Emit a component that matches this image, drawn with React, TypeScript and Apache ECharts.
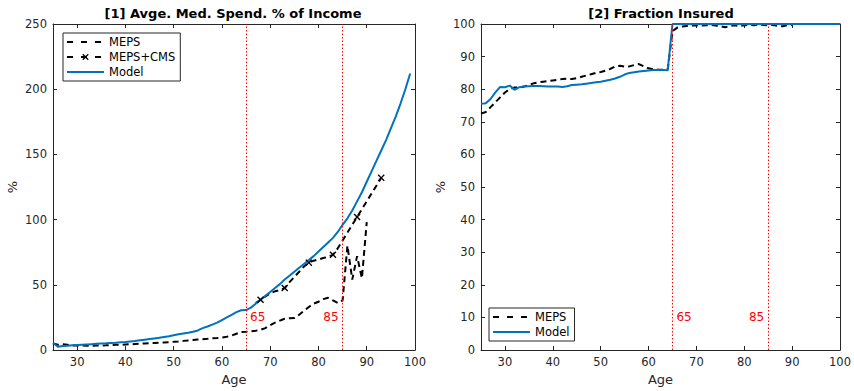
import React, { useEffect, useRef } from "react";
import * as echarts from "echarts";

const FONT = "DejaVu Sans";
const AXIS_COLOR = "#262626";
const BLUE = "#0072BD";

// [1] Average medical spending as % of income, by age
const spendModelStart = 25;
const spendModel = [
  5.5, 2.5, 3.0, 3.3, 3.6, 3.9, 4.1, 4.3, 4.5, 4.7, 4.9, 5.1, 5.4, 5.6, 5.9,
  6.1, 6.5, 6.9, 7.4, 7.9, 8.4, 8.9, 9.4, 10.0, 10.6, 11.3, 12.0, 12.7, 13.3,
  14.0, 15.0, 16.8, 18.0, 19.5, 21.0, 23.0, 25.0, 27.0, 29.0, 30.5, 30.6, 32.5,
  35.5, 38.5, 41.5, 44.5, 47.5, 50.5, 54.0, 57.0, 60.0, 63.0, 66.0, 69.0, 72.0,
  75.5, 79.0, 82.5, 86.0, 90.5, 96.0, 101, 107, 114, 121, 129, 137, 145, 153,
  161, 170, 179, 189, 200, 212,
];
const spendMepsStart = 25;
const spendMeps = [
  5, 4, 4.5, 4, 3.5, 3.5, 3.5, 3.3, 3.2, 3.4, 3.5, 3.6, 3.8, 4, 4, 4.2, 4.4,
  4.6, 4.8, 5, 5.2, 5.4, 5.6, 5.8, 6, 6.3, 6.6, 7, 7.3, 7.6, 8, 8.3, 8.6, 9,
  9.2, 9.5, 10.2, 11, 12.5, 13.8, 14, 14.3, 14.8, 15.5, 16.8, 19, 21, 22.5, 24,
  24.3, 24.5, 27, 30, 33, 35.5, 37, 39, 40, 38, 36, 38, 80, 54, 72, 55, 98,
];
const spendCmsStart = 67;
const spendCms = [
  36, 38.5, 41, 43.5, 45, 46, 47.5, 52, 56, 60, 64, 67, 68.5, 69.5, 70.5, 71.5,
  73, 78, 84, 90, 96, 102, 108, 114, 120, 126, 132,
];
const cmsMarkerAges = [68, 73, 78, 83, 88, 93];

// [2] Fraction insured, by age
const insuredModelStart = 25;
const insuredModel = [
  75.5, 75.7, 77, 79, 80.7, 80.6, 81.1, 79.8, 80.6, 80.8, 80.9, 81, 81, 80.9,
  80.8, 80.8, 80.8, 80.7, 80.9, 81.3, 81.4, 81.5, 81.7, 81.9, 82.1, 82.3, 82.6,
  82.9, 83.3, 83.8, 84.5, 85, 85.2, 85.4, 85.6, 85.7, 85.9, 85.9, 85.9, 85.8,
  100, 100, 100, 100, 100, 100, 100, 100, 100, 100, 100, 100, 100, 100, 100,
  100, 100, 100, 100, 100, 100, 100, 100, 100, 100, 100, 100, 100, 100, 100,
  100, 100, 100, 100, 100, 100,
];
const insuredMepsStart = 25;
const insuredMeps = [
  72.5, 73, 74.5, 76, 77.5, 79, 80, 80.5, 80.5, 80.8, 81.3, 81.8, 82.1, 82.3,
  82.5, 82.7, 82.9, 83.1, 83.2, 83.1, 83.4, 83.8, 84.2, 84.6, 85, 85.3, 85.7,
  86.2, 87, 87.2, 86.9, 87, 87.4, 87.7, 87, 86.4, 86.1, 86, 86, 86.1, 97.8,
  98.9, 99.2, 99.4, 99.5, 99.6, 99.5, 99.6, 99.7, 99.5, 99.3, 99.0, 99.4, 99.6,
  99.4, 99.6, 99.7, 99.6, 99.8, 99.7, 99.6, 99.7, 99.4, 99.3, 99.6, 99.7,
];

const ageTicks = [30, 40, 50, 60, 70, 80, 90, 100];
const refAges = [65, 85];

const pairs = (start: number, vals: number[]) =>
  vals.map((v, i) => [start + i, v]);

const X_MARK =
  "path://M0,1.4L1.4,0L5,3.6L8.6,0L10,1.4L6.4,5L10,8.6L8.6,10L5,6.4L1.4,10L0,8.6L3.6,5Z";

const xAxisFor = (gridIndex: number, position: "bottom" | "top") => ({
  type: "value",
  gridIndex,
  position,
  min: 25,
  max: 100,
  axisLine: { show: true, onZero: false, lineStyle: { color: AXIS_COLOR, width: 1 } },
  axisTick: {
    show: true,
    inside: true,
    length: 4,
    customValues: ageTicks,
    lineStyle: { color: AXIS_COLOR, width: 1 },
  },
  axisLabel: {
    show: position === "bottom",
    customValues: ageTicks,
    color: AXIS_COLOR,
    fontFamily: FONT,
    fontSize: 11.5,
    margin: 6,
  },
  splitLine: { show: false },
  name: position === "bottom" ? "Age" : "",
  nameLocation: "middle",
  nameGap: 23,
  nameTextStyle: { color: AXIS_COLOR, fontFamily: FONT, fontSize: 13 },
});

const yAxisFor = (
  gridIndex: number,
  position: "left" | "right",
  max: number,
  interval: number
) => ({
  type: "value",
  gridIndex,
  position,
  min: 0,
  max,
  interval,
  axisLine: { show: true, onZero: false, lineStyle: { color: AXIS_COLOR, width: 1 } },
  axisTick: { show: true, inside: true, length: 4, lineStyle: { color: AXIS_COLOR, width: 1 } },
  axisLabel: {
    show: position === "left",
    color: AXIS_COLOR,
    fontFamily: FONT,
    fontSize: 11.5,
    margin: 6,
  },
  splitLine: { show: false },
  name: position === "left" ? "%" : "",
  nameLocation: "middle",
  nameGap: 34,
  nameTextStyle: { color: AXIS_COLOR, fontFamily: FONT, fontSize: 13 },
});

const dashed = { color: "#000", width: 2, type: [6, 4] as number[] };
const solidBlue = { color: BLUE, width: 2 };

const refLines = {
  silent: true,
  symbol: ["none", "none"],
  label: { show: false },
  lineStyle: { color: "#FF0000", width: 1, type: [1.5, 2] as number[] },
  data: refAges.map((a) => ({ xAxis: a })),
};

const refLabels = (yVal: number) => ({
  silent: true,
  symbol: "circle",
  symbolSize: 0,
  data: refAges.map((a, i) => ({
    name: String(a),
    coord: [a, yVal],
    label: {
      show: true,
      formatter: String(a),
      position: i === 0 ? "right" : "left",
      distance: 4,
      color: "#FF0000",
      fontFamily: FONT,
      fontSize: 12,
    },
  })),
});

// Legend samples: dashed entries use a wider dash spacing, plain lines hide the marker
const legendDash = { type: [6, 8] as number[] };
const dashedEntry = (name: string, marker: boolean) =>
  marker
    ? { name, lineStyle: legendDash }
    : { name, lineStyle: legendDash, itemStyle: { opacity: 0 } };
const solidEntry = (name: string) => ({ name, itemStyle: { opacity: 0 } });

const legendBase = {
  orient: "vertical",
  backgroundColor: "#fff",
  borderColor: AXIS_COLOR,
  borderWidth: 1,
  borderRadius: 0,
  padding: [3, 5, 3, 3],
  itemWidth: 37,
  itemHeight: 8,
  itemGap: 3,
  textStyle: { color: "#000", fontFamily: FONT, fontSize: 11.5 },
  selectedMode: false,
};

export default function App() {
  const ref = useRef<HTMLDivElement>(null);

  useEffect(() => {
    if (!ref.current) return;
    const chart = echarts.init(ref.current, null, { renderer: "svg" });

    const cmsData = pairs(spendCmsStart, spendCms).map((p) => ({
      value: p,
      symbol: cmsMarkerAges.includes(p[0]) ? X_MARK : "none",
    }));

    chart.setOption({
      animation: false,
      backgroundColor: "#fff",
      grid: [
        { left: 53, top: 24, width: 362, height: 327 },
        { left: 481, top: 24, width: 362, height: 326 },
      ],
      xAxis: [
        xAxisFor(0, "bottom"),
        xAxisFor(0, "top"),
        xAxisFor(1, "bottom"),
        xAxisFor(1, "top"),
      ],
      yAxis: [
        yAxisFor(0, "left", 250, 50),
        yAxisFor(0, "right", 250, 50),
        yAxisFor(1, "left", 100, 10),
        yAxisFor(1, "right", 100, 10),
      ],
      legend: [
        {
          ...legendBase,
          left: 63,
          top: 33,
          data: [
            dashedEntry("MEPS", false),
            dashedEntry("MEPS+CMS", true),
            solidEntry("Model"),
          ],
        },
        {
          ...legendBase,
          left: 489,
          top: 308,
          data: [dashedEntry("MEPS", false), solidEntry("Model")],
        },
      ],
      graphic: [
        {
          type: "text",
          x: 233,
          y: 13,
          style: {
            text: "[1] Avge. Med. Spend. % of Income",
            textAlign: "center",
            textVerticalAlign: "middle",
            font: `bold 13px "${FONT}"`,
            fill: "#000",
          },
        },
        {
          type: "text",
          x: 661,
          y: 13,
          style: {
            text: "[2] Fraction Insured",
            textAlign: "center",
            textVerticalAlign: "middle",
            font: `bold 13px "${FONT}"`,
            fill: "#000",
          },
        },
      ],
      series: [
        {
          name: "MEPS",
          type: "line",
          xAxisIndex: 0,
          yAxisIndex: 0,
          data: pairs(spendMepsStart, spendMeps),
          symbol: "none",
          lineStyle: dashed,
          itemStyle: { color: "#000" },
          markLine: refLines,
          markPoint: refLabels(25),
        },
        {
          name: "MEPS+CMS",
          type: "line",
          xAxisIndex: 0,
          yAxisIndex: 0,
          data: cmsData,
          symbol: X_MARK,
          symbolSize: 7,
          showAllSymbol: true,
          lineStyle: dashed,
          itemStyle: { color: "#000" },
        },
        {
          name: "Model",
          type: "line",
          xAxisIndex: 0,
          yAxisIndex: 0,
          data: pairs(spendModelStart, spendModel),
          symbol: "none",
          lineStyle: solidBlue,
          itemStyle: { color: BLUE },
        },
        {
          name: "MEPS",
          type: "line",
          xAxisIndex: 2,
          yAxisIndex: 2,
          data: pairs(insuredMepsStart, insuredMeps),
          symbol: "none",
          lineStyle: dashed,
          itemStyle: { color: "#000" },
          markLine: refLines,
          markPoint: refLabels(10),
        },
        {
          name: "Model",
          type: "line",
          xAxisIndex: 2,
          yAxisIndex: 2,
          data: pairs(insuredModelStart, insuredModel),
          symbol: "none",
          lineStyle: solidBlue,
          itemStyle: { color: BLUE },
        },
      ],
    });

    return () => chart.dispose();
  }, []);

  return <div ref={ref} style={{ width: 854, height: 391, position: "absolute", left: 0, top: 0 }} />;
}
